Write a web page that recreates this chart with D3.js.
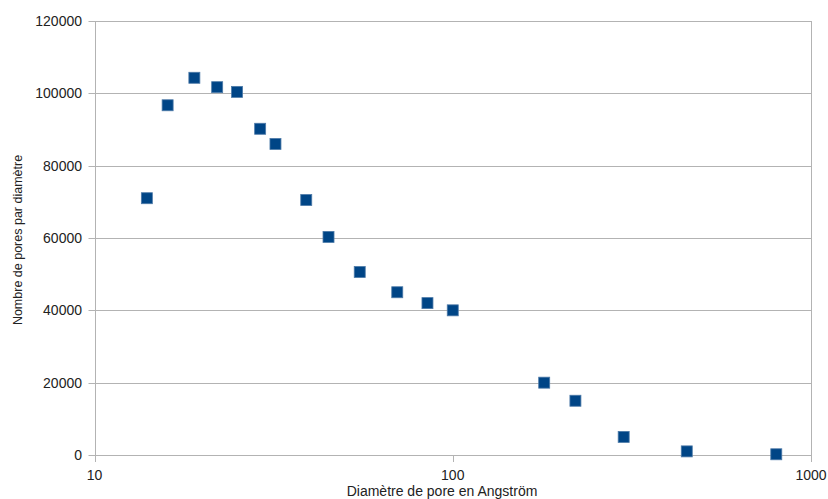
<!DOCTYPE html>
<html><head><meta charset="utf-8">
<script src="https://cdn.jsdelivr.net/npm/d3@7"></script>
<style>body{margin:0;background:#fff}svg{display:block}text{font-family:"Liberation Sans",Arial,sans-serif;fill:#222}</style>
</head><body><svg id="c" width="828" height="499"></svg>
<script>
const diameters = [14, 16, 19, 22, 25, 29, 32, 39, 45, 55, 70, 85, 100, 180, 220, 300, 450, 800];
const counts = [71000, 96700, 104300, 101700, 100400, 90200, 86000, 70500, 60300, 50600, 45000, 42000, 40000, 20000, 15000, 5000, 1000, 200];
const yTicks = [0, 20000, 40000, 60000, 80000, 100000, 120000];
const xTicks = [10, 100, 1000];
const xTitle = "Diamètre de pore en Angström";
const yTitle = "Nombre de pores par diamètre";

const svg = d3.select("#c");
const L = 94.5, R = 811, T = 21, B = 455;
const x = d3.scaleLog().domain([10, 1000]).range([L, R]);
const y = d3.scaleLinear().domain([0, 120000]).range([B, T]);
const grid = "#b3b3b3";

svg.append("g").selectAll("line").data(yTicks).join("line")
  .attr("x1", L - 6).attr("x2", R).attr("y1", d => Math.round(y(d)) + 0.5).attr("y2", d => Math.round(y(d)) + 0.5)
  .attr("stroke", grid).attr("stroke-width", 1);
svg.append("g").selectAll("line").data([10, 1000]).join("line")
  .attr("x1", d => Math.round(x(d)) + 0.5).attr("x2", d => Math.round(x(d)) + 0.5)
  .attr("y1", T).attr("y2", B + 7).attr("stroke", grid);
svg.append("g").selectAll("line").data(xTicks).join("line")
  .attr("x1", d => Math.round(x(d)) + 0.5).attr("x2", d => Math.round(x(d)) + 0.5)
  .attr("y1", B).attr("y2", B + 7).attr("stroke", grid);

svg.append("g").selectAll("text").data(yTicks).join("text")
  .attr("x", 82).attr("y", d => y(d) + 5).attr("text-anchor", "end")
  .style("font-size", "14px").text(d => d);
svg.append("g").selectAll("text").data(xTicks).join("text")
  .attr("x", d => x(d)).attr("y", 480).attr("text-anchor", "middle")
  .style("font-size", "14px").text(d => d);

svg.append("text").attr("x", 442).attr("y", 495.5).attr("text-anchor", "middle")
  .style("font-size", "14px").text(xTitle);
svg.append("text").attr("transform", "translate(22,240) rotate(-90)").attr("text-anchor", "middle")
  .style("font-size", "12.5px").text(yTitle);

const s = 11;
svg.append("g").selectAll("rect").data(diameters.map((d, i) => [d, counts[i]])).join("rect")
  .attr("x", d => x(d[0]) - s / 2).attr("y", d => y(d[1]) - s / 2)
  .attr("width", s).attr("height", s).attr("fill", "#004586")
  .attr("stroke", "#4d7aa8").attr("stroke-width", 0.8);
</script></body></html>
